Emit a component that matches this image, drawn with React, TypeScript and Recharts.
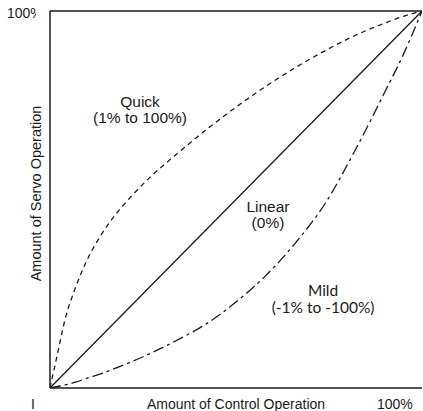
import { LineChart, Line, XAxis, YAxis, ReferenceLine, ReferenceDot, Label } from 'recharts';

const xs = [0, 2, 4, 7, 10, 14, 18, 22, 27, 34, 42, 50, 58, 66, 74, 82, 90, 95, 100];
// servo operation (%) for each curve
const quick = [0, 9, 18, 27, 34, 41, 46.5, 51, 56, 62, 68.5, 74.5, 80, 85, 89.5, 93.5, 96.8, 98.6, 100];
const mild = [0, 0.4, 0.8, 1.6, 2.6, 3.9, 5.4, 7, 9.2, 12.6, 17, 22.8, 29.8, 38.5, 49, 63, 78.5, 88.5, 100];
const linearX = [0, 100];
const linearY = [0, 100];

const xTickLabels: Record<number, string> = { 0: 'I', 100: '100%' };
const yTickLabels: Record<number, string> = { 100: '100%' };

const FONT = '"Liberation Sans", Arial, sans-serif';
const INK = '#1a1a1a';

// curve annotations: anchor of first line (data coords) + lines of text
const notes = [
  { x: 24.2, y: 76, lines: ['Quick', '(1% to 100%)'], font: FONT, size: 15.5, gap: 16 },
  { x: 58.6, y: 48.2, lines: ['Linear', '(0%)'], font: FONT, size: 15.5, gap: 16 },
  { x: 73.4, y: 25.8, lines: ['Mild', '(-1% to -100%)'], font: 'Lato, sans-serif', size: 15.5, gap: 17 },
];

const quickData = xs.map((x, i) => ({ x, y: quick[i] }));
const mildData = xs.map((x, i) => ({ x, y: mild[i] }));
const linearData = linearX.map((x, i) => ({ x, y: linearY[i] }));

const XTick = (props: any) => {
  const { x, y, payload } = props;
  const last = payload.value === 100;
  return (
    <text
      x={last ? x - 34 : x - 17}
      y={y + 8}
      textAnchor={last ? 'start' : 'middle'}
      dominantBaseline="central"
      fontSize={14}
      fontFamily={FONT}
      fill={INK}
    >
      {xTickLabels[payload.value]}
    </text>
  );
};

const YTick = (props: any) => {
  const { y, payload } = props;
  return (
    <g>
      <defs>
        <clipPath id="ytick-clip">
          <rect x={0} y={0} width={36} height={40} />
        </clipPath>
      </defs>
      <text x={7} y={y + 2} textAnchor="start" dominantBaseline="central" fontSize={14} fontFamily={FONT} fill={INK} clipPath="url(#ytick-clip)">
        {yTickLabels[payload.value]}
      </text>
    </g>
  );
};

const noteLabel = (lines: string[], font: string, size: number, gap: number) => (props: any) => {
  const vb = props.viewBox || {};
  const cx = vb.x + (vb.width || 0) / 2;
  const cy = vb.y + (vb.height || 0) / 2;
  return (
    <text x={cx} y={cy + size * 0.35} textAnchor="middle" fontSize={size} fontFamily={font} fill={INK}>
      {lines.map((l, i) => (
        <tspan key={i} x={cx} dy={i === 0 ? 0 : gap}>
          {l}
        </tspan>
      ))}
    </text>
  );
};

const yTitle = (props: any) => {
  const vb = props.viewBox;
  const cx = vb.x + 36;
  const cy = vb.y + vb.height / 2 - 6;
  return (
    <text x={cx} y={cy} transform={`rotate(-90, ${cx}, ${cy})`} textAnchor="middle" dominantBaseline="central" fontSize={14.5} fontFamily={FONT} fill={INK}>
      Amount of Servo Operation
    </text>
  );
};

export default function App() {
  return (
    <div style={{ position: 'absolute', left: 0, top: 0, background: '#fff' }}>
      <LineChart width={423} height={411} margin={{ top: 11, right: 1, bottom: 0, left: 0 }}>
        <XAxis
          type="number"
          dataKey="x"
          domain={[0, 100]}
          ticks={[0, 100]}
          height={23}
          tickLine={false}
          axisLine={{ stroke: INK, strokeWidth: 1.5 }}
          tick={<XTick />}
          allowDataOverflow
        >
          <Label value="Amount of Control Operation" position="insideBottom" offset={2} style={{ fontSize: 14, fontFamily: FONT, fill: INK }} />
        </XAxis>
        <YAxis
          type="number"
          dataKey="y"
          domain={[0, 100]}
          ticks={[100]}
          width={50}
          tickLine={false}
          axisLine={{ stroke: INK, strokeWidth: 1.5 }}
          tick={<YTick />}
          allowDataOverflow
        >
          <Label content={yTitle} />
        </YAxis>
        <ReferenceLine y={100} stroke={INK} strokeWidth={1.5} />
        <Line data={quickData} dataKey="y" type="monotone" stroke={INK} strokeWidth={1.3} strokeDasharray="5 4" dot={false} isAnimationActive={false} />
        <Line data={linearData} dataKey="y" type="linear" stroke={INK} strokeWidth={1.3} dot={false} isAnimationActive={false} />
        <Line data={mildData} dataKey="y" type="monotone" stroke={INK} strokeWidth={1.3} strokeDasharray="11 4 3 4" dot={false} isAnimationActive={false} />
        {notes.map((n, i) => (
          <ReferenceDot key={i} x={n.x} y={n.y} r={0} stroke="none" fill="none" label={{ content: noteLabel(n.lines, n.font, n.size, n.gap) }} />
        ))}
      </LineChart>
    </div>
  );
}
